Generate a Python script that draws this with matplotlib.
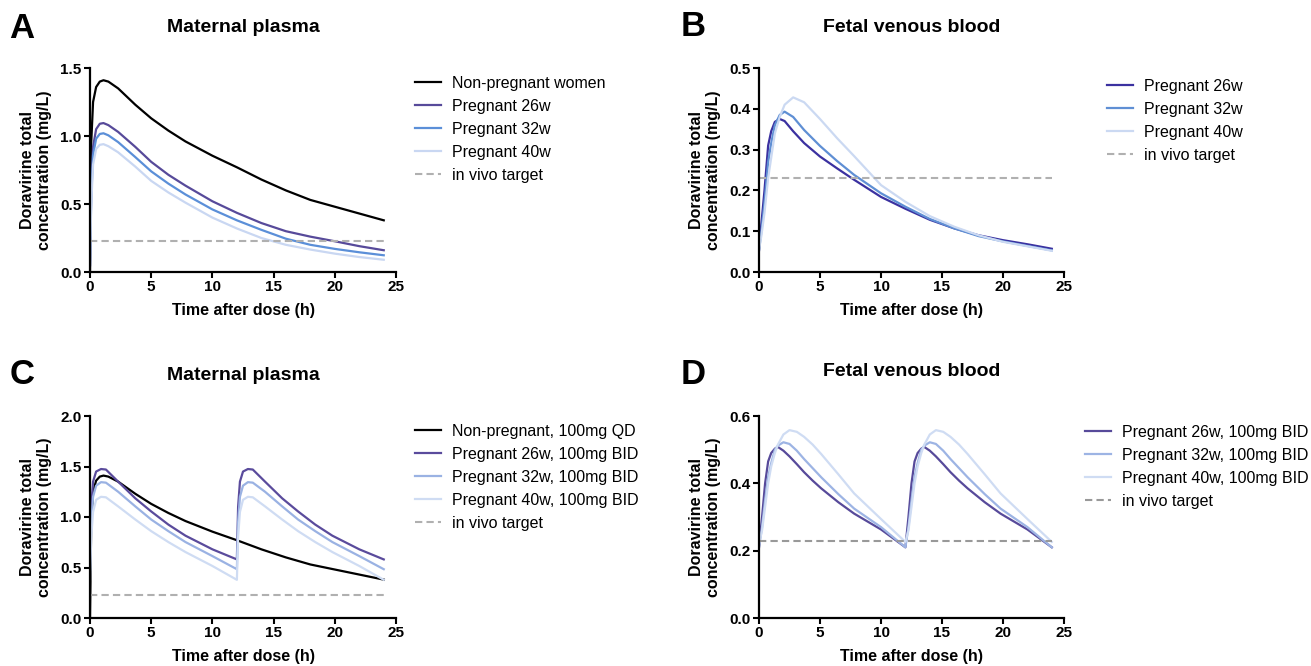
import matplotlib
matplotlib.use("Agg")
import matplotlib.pyplot as plt

plt.rcParams['font.family'] = ['Liberation Sans', 'DejaVu Sans']

W, H = 1311, 666

# ---- panel A / B data (single 100 mg dose) ----
tA = [0, 0.1, 0.25, 0.5, 0.8, 1.1, 1.5, 2.3, 3.7, 5, 6.4, 7.8, 10, 12, 14, 16, 18, 20, 22, 24]
nonpreg_A = [0.0, 0.95, 1.25, 1.36, 1.40, 1.41, 1.40, 1.35, 1.23, 1.13, 1.04, 0.96, 0.855, 0.77, 0.68, 0.60, 0.53, 0.48, 0.43, 0.38]
preg26_A = [0.05, 0.6, 0.92, 1.05, 1.09, 1.095, 1.08, 1.03, 0.92, 0.81, 0.715, 0.635, 0.52, 0.435, 0.36, 0.30, 0.26, 0.226, 0.19, 0.16]
preg32_A = [0.05, 0.55, 0.86, 0.98, 1.015, 1.02, 1.005, 0.955, 0.845, 0.74, 0.65, 0.57, 0.46, 0.38, 0.31, 0.245, 0.20, 0.17, 0.145, 0.123]
preg40_A = [0.05, 0.5, 0.79, 0.905, 0.935, 0.94, 0.925, 0.88, 0.775, 0.67, 0.585, 0.51, 0.40, 0.32, 0.25, 0.20, 0.165, 0.135, 0.11, 0.09]

tB = [0, 0.2, 0.45, 0.75, 1.0, 1.3, 1.7, 2.1, 2.8, 3.7, 5, 6.4, 7.8, 10, 12, 14, 16, 18, 20, 22, 24]
preg26_B = [0.053, 0.12, 0.20, 0.31, 0.345, 0.368, 0.375, 0.37, 0.345, 0.316, 0.283, 0.254, 0.226, 0.184, 0.155, 0.128, 0.107, 0.09, 0.078, 0.068, 0.057]
preg32_B = [0.053, 0.10, 0.17, 0.27, 0.316, 0.36, 0.385, 0.393, 0.38, 0.348, 0.309, 0.272, 0.238, 0.193, 0.16, 0.13, 0.107, 0.088, 0.075, 0.064, 0.053]
preg40_B = [0.053, 0.09, 0.145, 0.23, 0.28, 0.34, 0.38, 0.41, 0.428, 0.416, 0.375, 0.328, 0.284, 0.213, 0.172, 0.137, 0.111, 0.09, 0.074, 0.063, 0.052]

# ---- panel C / D data (100 mg BID in pregnancy) ----
tC = [0, 0.1, 0.25, 0.5, 0.9, 1.3, 2.3, 3.7, 5, 6.4, 7.8, 10, 12,
      12.1, 12.25, 12.5, 12.9, 13.3, 14.3, 15.7, 17, 18.4, 19.8, 22, 24]
preg26_C = [0.58, 1.10, 1.35, 1.45, 1.475, 1.47, 1.35, 1.185, 1.055, 0.925, 0.815, 0.68, 0.58,
            1.10, 1.35, 1.45, 1.475, 1.47, 1.35, 1.185, 1.055, 0.925, 0.815, 0.68, 0.58]
preg32_C = [0.48, 0.95, 1.20, 1.31, 1.345, 1.34, 1.25, 1.105, 0.975, 0.86, 0.752, 0.613, 0.483,
            0.95, 1.20, 1.31, 1.345, 1.34, 1.25, 1.105, 0.975, 0.86, 0.752, 0.613, 0.483]
preg40_C = [0.38, 0.80, 1.05, 1.17, 1.20, 1.195, 1.105, 0.975, 0.86, 0.752, 0.653, 0.515, 0.378,
            0.80, 1.05, 1.17, 1.20, 1.195, 1.105, 0.975, 0.86, 0.752, 0.653, 0.515, 0.378]

tD = [0, 0.25, 0.5, 0.75, 1.0, 1.3, 1.55, 2.0, 2.5, 3.1, 3.7, 4.4, 5.1, 6.5, 7.8, 10, 12,
      12.25, 12.5, 12.75, 13.0, 13.3, 13.55, 14.0, 14.5, 15.1, 15.7, 16.4, 17.1, 18.5, 19.8, 22, 24]
preg26_D = [0.21, 0.30, 0.40, 0.465, 0.49, 0.503, 0.508, 0.497, 0.48, 0.457, 0.433, 0.408, 0.385, 0.344, 0.31, 0.263, 0.21,
            0.30, 0.40, 0.465, 0.49, 0.503, 0.508, 0.497, 0.48, 0.457, 0.433, 0.408, 0.385, 0.344, 0.31, 0.263, 0.21]
preg32_D = [0.21, 0.27, 0.35, 0.42, 0.46, 0.50, 0.512, 0.522, 0.517, 0.497, 0.472, 0.445, 0.418, 0.368, 0.325, 0.27, 0.21,
            0.27, 0.35, 0.42, 0.46, 0.50, 0.512, 0.522, 0.517, 0.497, 0.472, 0.445, 0.418, 0.368, 0.325, 0.27, 0.21]
preg40_D = [0.22, 0.26, 0.33, 0.40, 0.45, 0.49, 0.515, 0.545, 0.558, 0.553, 0.538, 0.515, 0.487, 0.427, 0.37, 0.294, 0.226,
            0.26, 0.33, 0.40, 0.45, 0.49, 0.515, 0.545, 0.558, 0.553, 0.538, 0.515, 0.487, 0.427, 0.37, 0.294, 0.226]

target = 0.23


def fx(px):
    return px / W


def fy(py):
    return 1 - py / H


fig = plt.figure(figsize=(W / 100, H / 100), dpi=100)


def make_axes(left, top, right, bottom):
    return fig.add_axes([fx(left), fy(bottom), fx(right - left), (bottom - top) / H])


def style(ax, ymax, ystep, yfmt):
    ax.set_xlim(0, 25)
    ax.set_ylim(0, ymax)
    ax.set_xticks(range(0, 26, 5))
    n = int(round(ymax / ystep))
    yt = [i * ystep for i in range(n + 1)]
    ax.set_yticks(yt)
    ax.set_yticklabels([yfmt % v for v in yt])
    for s in ['top', 'right']:
        ax.spines[s].set_visible(False)
    for s in ['left', 'bottom']:
        ax.spines[s].set_linewidth(1.6)
    ax.tick_params(direction='out', length=4, width=1.5, pad=2, labelsize=11)
    for lab in ax.get_xticklabels() + ax.get_yticklabels():
        lab.set_fontweight('bold')
    ax.set_xlabel('Time after dose (h)', fontsize=11.5, fontweight='bold', labelpad=6)
    ax.set_ylabel('Doravirine total\nconcentration (mg/L)', fontsize=11.5,
                  fontweight='bold', labelpad=6, linespacing=1.2)


def target_line(ax, color='#b0b0b0'):
    ax.plot([0, 24], [target, target], color=color, lw=1.5, ls=(0, (3.5, 2)),
            label='in vivo target')


def legend(ax, x, y):
    ax.legend(loc='upper left', bbox_to_anchor=(fx(x), fy(y)), bbox_transform=fig.transFigure,
              frameon=False, fontsize=11.5, handlelength=1.6, handletextpad=0.7,
              labelspacing=0.5, borderpad=0, borderaxespad=0)


def header(ax, letter, title, lx, ly, ty):
    pos = ax.get_position()
    fig.text((pos.x0 + pos.x1) / 2, fy(ty), title, ha='center', va='center',
             fontsize=14, fontweight='bold')
    fig.text(fx(lx), fy(ly), letter, ha='center', va='center', fontsize=25, fontweight='bold')


lw = 1.6

# A
axA = make_axes(90, 68, 396, 272)
axA.plot(tA, nonpreg_A, color='black', lw=lw, label='Non-pregnant women')
axA.plot(tA, preg26_A, color='#574a9a', lw=lw, label='Pregnant 26w')
axA.plot(tA, preg32_A, color='#5b8fd8', lw=lw, label='Pregnant 32w')
axA.plot(tA, preg40_A, color='#c9d7f2', lw=lw, label='Pregnant 40w')
target_line(axA)
style(axA, 1.5, 0.5, '%.1f')
legend(axA, 415, 76)
header(axA, 'A', 'Maternal plasma', 22, 28, 27)

# B
axB = make_axes(759, 68, 1064, 272)
axB.plot(tB, preg26_B, color='#3b31a0', lw=lw, label='Pregnant 26w')
axB.plot(tB, preg32_B, color='#5f8fd4', lw=lw, label='Pregnant 32w')
axB.plot(tB, preg40_B, color='#cbd9f2', lw=lw, label='Pregnant 40w')
target_line(axB)
style(axB, 0.5, 0.1, '%.1f')
legend(axB, 1107, 79)
header(axB, 'B', 'Fetal venous blood', 693, 27, 27)

# C
axC = make_axes(90, 416, 396, 618)
axC.plot(tA, nonpreg_A, color='black', lw=lw, label='Non-pregnant, 100mg QD')
axC.plot(tC, preg26_C, color='#5a4b9c', lw=lw, label='Pregnant 26w, 100mg BID')
axC.plot(tC, preg32_C, color='#9ab2e3', lw=lw, label='Pregnant 32w, 100mg BID')
axC.plot(tC, preg40_C, color='#cfdcf3', lw=lw, label='Pregnant 40w, 100mg BID')
target_line(axC)
style(axC, 2.0, 0.5, '%.1f')
legend(axC, 415, 424)
header(axC, 'C', 'Maternal plasma', 22, 375, 375)

# D
axD = make_axes(759, 416, 1064, 618)
axD.plot(tD, preg26_D, color='#574a9a', lw=lw, label='Pregnant 26w, 100mg BID')
axD.plot(tD, preg32_D, color='#9db4e4', lw=lw, label='Pregnant 32w, 100mg BID')
axD.plot(tD, preg40_D, color='#cfdcf3', lw=lw, label='Pregnant 40w, 100mg BID')
target_line(axD, color='#999999')
style(axD, 0.6, 0.2, '%.1f')
legend(axD, 1085, 425)
header(axD, 'D', 'Fetal venous blood', 693, 374, 372)

fig.savefig('out.png', dpi=100)
